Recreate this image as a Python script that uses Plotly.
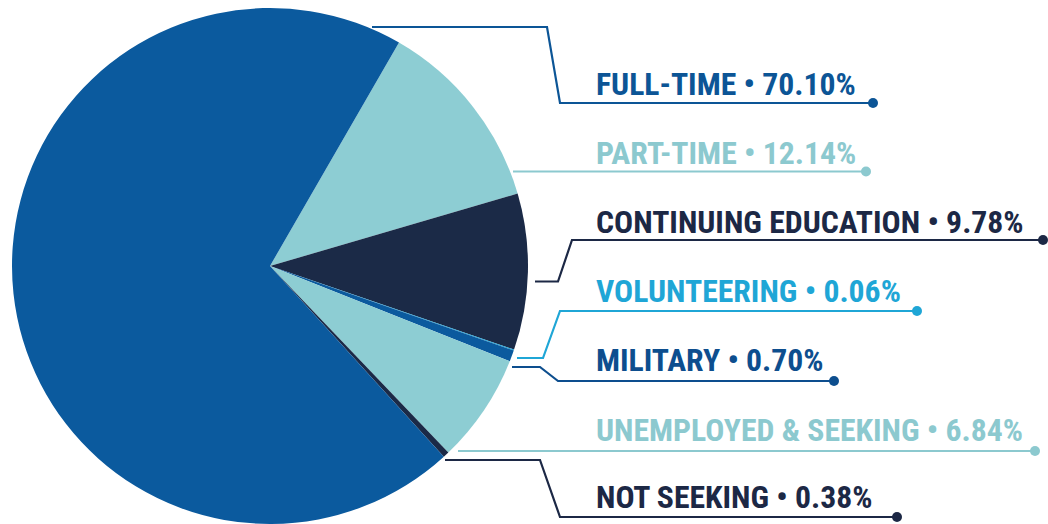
import plotly.graph_objects as go

W, H = 1048, 524

# ---------------- data ----------------
categories = ["PART-TIME", "CONTINUING EDUCATION", "VOLUNTEERING", "MILITARY",
              "UNEMPLOYED & SEEKING", "NOT SEEKING", "FULL-TIME"]
values = [12.14, 9.78, 0.06, 0.70, 6.84, 0.38, 70.10]
slice_colors = ["#8DCDD3", "#1B2A47", "#1CA6DA", "#0B5A9E", "#8DCDD3", "#1B2A47", "#0B5A9E"]

label_order = ["FULL-TIME", "PART-TIME", "CONTINUING EDUCATION", "VOLUNTEERING",
               "MILITARY", "UNEMPLOYED & SEEKING", "NOT SEEKING"]
label_colors = {"FULL-TIME": "#0C5596", "PART-TIME": "#8CC9CF",
                "CONTINUING EDUCATION": "#1C2845", "VOLUNTEERING": "#1FA6D6",
                "MILITARY": "#0D4E8E", "UNEMPLOYED & SEEKING": "#8CC9CF",
                "NOT SEEKING": "#1C2845"}

text_x = 594
text_cy = {"FULL-TIME": 84, "PART-TIME": 153, "CONTINUING EDUCATION": 222,
           "VOLUNTEERING": 291, "MILITARY": 360, "UNEMPLOYED & SEEKING": 430,
           "NOT SEEKING": 497}
leaders = {
    "FULL-TIME": [(372, 27), (547, 27), (560, 103), (873, 103)],
    "PART-TIME": [(513, 171.5), (866, 171.5)],
    "CONTINUING EDUCATION": [(535, 281.5), (558, 281.5), (572, 240), (1043, 240)],
    "VOLUNTEERING": [(517, 358), (543, 358), (560, 311), (917, 311)],
    "MILITARY": [(512, 367), (540, 367), (558, 381), (834, 381)],
    "UNEMPLOYED & SEEKING": [(458, 451), (1035, 451)],
    "NOT SEEKING": [(445, 460), (540, 460), (560, 517), (897, 517)],
}

val_of = dict(zip(categories, values))
FONT = "Roboto Condensed, Liberation Sans Narrow, Arial Narrow, DejaVu Sans Condensed"

fig = go.Figure()
fig.add_trace(go.Pie(
    labels=categories, values=values, sort=False, direction="clockwise",
    rotation=30, textinfo="none", hoverinfo="label+percent",
    marker=dict(colors=slice_colors, line=dict(width=0)),
    domain=dict(x=[12 / W, 528 / W], y=[0, 516 / H]),
    showlegend=False,
))

shapes = []
annotations = []
for name in label_order:
    col = label_colors[name]
    pts = leaders[name]
    path = "M " + " L ".join(f"{x},{y}" for x, y in pts)
    shapes.append(dict(type="path", path=path, xref="x", yref="y",
                       line=dict(color=col, width=2.2), layer="above"))
    ex, ey = pts[-1]
    r = 5
    shapes.append(dict(type="circle", xref="x", yref="y",
                       x0=ex - r, x1=ex + r, y0=ey - r, y1=ey + r,
                       fillcolor=col, line=dict(width=0)))
    annotations.append(dict(
        x=text_x, y=text_cy[name], xref="x", yref="y",
        text=f"{name} \u2022 {val_of[name]:.2f}%", showarrow=False,
        xanchor="left", yanchor="middle",
        font=dict(family=FONT, size=31.7, color=col, weight="bold"),
    ))

fig.update_layout(
    width=W, height=H, margin=dict(l=0, r=0, t=0, b=0),
    paper_bgcolor="white", plot_bgcolor="rgba(0,0,0,0)",
    xaxis=dict(range=[0, W], visible=False, fixedrange=True),
    yaxis=dict(range=[H, 0], visible=False, fixedrange=True),
    shapes=shapes, annotations=annotations,
)

fig.write_html("out.html", config={"displayModeBar": False},
               post_script="document.body.style.margin='0px';document.body.style.overflow='hidden';")
